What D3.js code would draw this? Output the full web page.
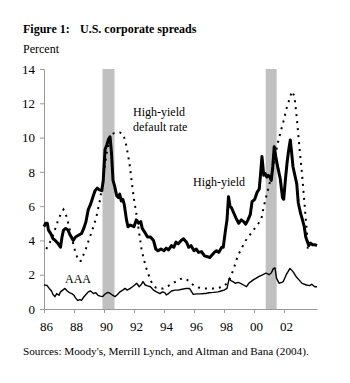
<!DOCTYPE html>
<html>
<head>
<meta charset="utf-8">
<script src="https://cdn.jsdelivr.net/npm/d3@7"></script>
<style>
  body { margin: 0; background: #fff; }
  svg text { font-family: "Liberation Serif", "Times New Roman", serif; fill: #000; }
</style>
</head>
<body>
<div id="chart"></div>
<script>
// recession shading (start, end)
const recessions = [[1989.9, 1990.7], [2000.78, 2001.51]];

const yTicks = [0, 2, 4, 6, 8, 10, 12, 14];
const xTicks = [1986, 1988, 1990, 1992, 1994, 1996, 1998, 2000, 2002];

// high-yield spread (thick line)
const hyDates = [1986.0, 1986.1, 1986.22, 1986.3, 1986.45, 1986.6, 1986.75, 1986.95, 1987.1, 1987.2,
  1987.3, 1987.45, 1987.6, 1987.75, 1987.95, 1988.1, 1988.3, 1988.5, 1988.65, 1988.8,
  1988.95, 1989.1, 1989.25, 1989.4, 1989.55, 1989.7, 1989.85, 1989.95, 1990.07, 1990.2,
  1990.3, 1990.4, 1990.5, 1990.6, 1990.7, 1990.85, 1990.95, 1991.05, 1991.15, 1991.25,
  1991.35, 1991.5, 1991.6, 1991.75, 1992.0, 1992.15, 1992.3, 1992.45, 1992.55, 1992.7,
  1992.9, 1993.1, 1993.3, 1993.45, 1993.6, 1993.8, 1994.0, 1994.15, 1994.3, 1994.5,
  1994.65, 1994.8, 1994.95, 1995.15, 1995.3, 1995.5, 1995.65, 1995.8, 1996.0, 1996.15,
  1996.3, 1996.5, 1996.7, 1996.9, 1997.05, 1997.2, 1997.35, 1997.5, 1997.65, 1997.85,
  1997.95, 1998.1, 1998.2, 1998.3, 1998.4, 1998.5, 1998.65, 1998.8, 1998.98, 1999.15,
  1999.3, 1999.45, 1999.6, 1999.75, 1999.87, 2000.05, 2000.2, 2000.35, 2000.45, 2000.53,
  2000.65, 2000.75, 2000.85, 2000.95, 2001.05, 2001.15, 2001.25, 2001.35, 2001.45, 2001.6,
  2001.75, 2001.9, 2001.98, 2002.1, 2002.2, 2002.3, 2002.42, 2002.5, 2002.6, 2002.75,
  2002.85, 2002.95, 2003.1, 2003.2, 2003.35, 2003.45, 2003.53, 2003.65, 2003.75, 2003.9,
  2004.05, 2004.2];
const hyValues = [4.8, 5.0, 5.0, 4.6, 4.4, 4.1, 4.0, 3.8, 3.6, 4.2,
  4.6, 4.7, 4.6, 4.3, 4.0, 4.2, 4.3, 4.4, 4.7, 5.1,
  5.8, 6.1, 6.5, 6.9, 7.05, 6.95, 6.9, 7.5, 9.3, 9.6,
  9.9, 10.05, 9.1, 7.5, 7.2, 6.6, 6.5, 6.7, 6.3, 6.4,
  6.1, 5.2, 4.8, 4.9, 4.8, 5.2, 5.0, 5.1, 4.7, 4.5,
  4.2, 4.2, 4.0, 3.5, 3.4, 3.5, 3.4, 3.55, 3.45, 3.7,
  3.6, 3.9, 3.8, 4.0, 4.1, 3.9, 3.6, 3.7, 3.4, 3.5,
  3.3, 3.35, 3.1, 3.05, 3.0, 3.15, 3.3, 3.4, 3.3, 3.6,
  3.6, 4.6, 5.2, 6.55, 6.0, 5.9, 5.6, 5.3, 5.0, 5.2,
  5.1, 4.95, 5.2, 5.5, 6.26, 6.4, 6.8, 7.0, 8.0, 8.9,
  7.8, 7.9, 7.7, 7.8, 7.7, 7.5, 8.3, 9.47, 8.9, 8.2,
  7.6, 6.5, 6.4, 7.6, 8.5, 9.2, 9.86, 9.2, 8.3, 7.7,
  7.3, 6.2, 5.6, 5.3, 4.8, 4.2, 4.0, 3.7, 3.85, 3.75,
  3.75, 3.7];

// high-yield default rate (dotted line)
const defDates = [1986.15, 1986.4, 1986.6, 1986.8, 1986.95, 1987.15, 1987.3, 1987.5, 1987.65, 1987.8,
  1987.95, 1988.1, 1988.3, 1988.45, 1988.6, 1988.75, 1988.9, 1989.1, 1989.3, 1989.5,
  1989.73, 1989.9, 1990.05, 1990.18, 1990.35, 1990.5, 1990.65, 1990.85, 1991.05, 1991.28,
  1991.45, 1991.6, 1991.73, 1991.85, 1992.0, 1992.15, 1992.35, 1992.5, 1992.65, 1992.85,
  1993.05, 1993.2, 1993.45, 1993.7, 1993.95, 1994.2, 1994.5, 1994.8, 1995.1, 1995.3,
  1995.55, 1995.8, 1996.05, 1996.3, 1996.6, 1997.0, 1997.4, 1997.7, 1997.95, 1998.2,
  1998.35, 1998.5, 1998.7, 1998.9, 1999.15, 1999.45, 1999.75, 2000.05, 2000.3, 2000.5,
  2000.65, 2000.87, 2001.09, 2001.31, 2001.53, 2001.75, 2001.98, 2002.2, 2002.42, 2002.53,
  2002.7, 2002.87, 2003.02, 2003.2, 2003.38, 2003.53, 2003.6];
const defValues = [3.5, 3.9, 4.3, 4.8, 5.2, 5.6, 5.8, 5.4, 4.9, 4.3,
  3.8, 3.3, 2.8, 2.8, 3.1, 3.4, 3.8, 4.3, 4.8, 5.4,
  6.36, 7.3, 8.3, 9.1, 9.8, 10.15, 10.25, 10.3, 10.3, 10.2,
  9.7, 9.0, 8.3, 7.4, 6.4, 5.6, 4.4, 3.5, 2.9, 2.3,
  1.8, 1.5, 1.25, 1.2, 1.2, 1.3, 1.45, 1.6, 1.75, 1.8,
  1.7, 1.5, 1.35, 1.25, 1.2, 1.2, 1.2, 1.25, 1.3, 1.5,
  1.7, 2.0, 2.5, 3.05, 3.5, 4.0, 4.35, 4.7, 5.0, 5.3,
  5.97, 6.75, 7.5, 8.3, 9.47, 10.25, 11.0, 11.8, 12.4, 12.7,
  12.4, 11.0, 9.5, 7.9, 6.0, 4.4, 3.3];

// AAA spread (thin line)
const aaaDates = [1986.0, 1986.2, 1986.35, 1986.5, 1986.6, 1986.73, 1986.85, 1987.0, 1987.1, 1987.25,
  1987.4, 1987.55, 1987.7, 1987.85, 1988.0, 1988.1, 1988.25, 1988.4, 1988.5, 1988.65,
  1988.8, 1988.95, 1989.1, 1989.3, 1989.45, 1989.6, 1989.75, 1989.9, 1990.05, 1990.25,
  1990.4, 1990.55, 1990.73, 1990.9, 1991.07, 1991.25, 1991.4, 1991.55, 1991.75, 1991.9,
  1992.05, 1992.18, 1992.35, 1992.5, 1992.6, 1992.75, 1992.9, 1993.1, 1993.3, 1993.5,
  1993.73, 1993.9, 1994.05, 1994.15, 1994.3, 1994.5, 1994.73, 1994.95, 1995.2, 1995.5,
  1995.7, 1995.95, 1996.15, 1996.4, 1996.73, 1997.0, 1997.3, 1997.6, 1997.8, 1998.0,
  1998.2, 1998.35, 1998.45, 1998.6, 1998.75, 1998.95, 1999.1, 1999.3, 1999.5, 1999.65,
  1999.8, 1999.95, 2000.15, 2000.35, 2000.6, 2000.8, 2001.0, 2001.15, 2001.3, 2001.4,
  2001.5, 2001.67, 2001.85, 2001.95, 2002.15, 2002.4, 2002.6, 2002.8, 2003.0, 2003.2,
  2003.5, 2003.7, 2003.85, 2004.05, 2004.2];
const aaaValues = [1.4, 1.38, 1.2, 1.05, 0.85, 0.72, 0.9, 0.8, 1.0, 1.1,
  1.2, 1.05, 0.95, 0.9, 0.8, 0.65, 0.5, 0.55, 0.5, 0.7,
  0.85, 1.0, 1.05, 0.9, 0.95, 0.8, 0.75, 0.72, 0.86, 0.97,
  0.92, 0.82, 0.72, 0.85, 1.0, 1.1, 1.2, 1.1, 1.2, 1.3,
  1.4, 1.5, 1.3, 1.45, 1.6, 1.4, 1.35, 1.3, 1.1, 1.0,
  0.9, 1.0, 0.95, 0.82, 0.9, 1.05, 1.1, 1.1, 1.15, 1.2,
  1.2, 0.85, 0.88, 0.88, 0.9, 0.95, 0.97, 1.0, 1.05, 1.1,
  1.2, 1.8, 1.65, 1.6, 1.5, 1.55, 1.5, 1.4, 1.3, 1.5,
  1.6, 1.7, 1.8, 1.9, 2.0, 2.1, 2.0, 2.1, 2.37, 2.4,
  1.8, 1.5, 1.55, 1.6, 2.0, 2.37, 2.18, 1.9, 1.7, 1.5,
  1.4, 1.36, 1.44, 1.3, 1.3];

const width = 350, height = 383;
const svg = d3.select('#chart').append('svg')
  .attr('width', width)
  .attr('height', height);

const x = d3.scaleLinear().domain([1986, 2004.2]).range([44, 317]);
const y = d3.scaleLinear().domain([0, 14]).range([309, 69]);

// title + unit
svg.append('text').attr('x', 23).attr('y', 33)
  .style('font-size', '12px').style('font-weight', 'bold').text('Figure 1:');
svg.append('text').attr('x', 80).attr('y', 33)
  .style('font-size', '12px').style('font-weight', 'bold').text('U.S. corporate spreads');
svg.append('text').attr('x', 23).attr('y', 53)
  .style('font-size', '12px').text('Percent');

// recession bars
svg.append('g').selectAll('rect').data(recessions).enter()
  .append('rect')
  .attr('x', d => x(d[0]))
  .attr('width', d => x(d[1]) - x(d[0]))
  .attr('y', y(14))
  .attr('height', y(0) - y(14))
  .attr('fill', '#c0c0c0');

// axes
const yAxis = svg.append('g').attr('transform', `translate(${x(1986)},0)`)
  .call(d3.axisLeft(y).tickValues(yTicks).tickSize(4).tickSizeOuter(0).tickPadding(5));
const xAxis = svg.append('g').attr('transform', `translate(0,${y(0)})`)
  .call(d3.axisBottom(x).tickValues(xTicks).tickSize(4).tickSizeOuter(0).tickPadding(9)
    .tickFormat(d => String(d).slice(2)));
[yAxis, xAxis].forEach(a => {
  a.select('.domain').attr('stroke', '#999');
  a.selectAll('.tick line').attr('stroke', '#999');
  a.selectAll('text').style('font-size', '13px')
    .style('font-family', '"Liberation Serif", "Times New Roman", serif');
});
xAxis.selectAll('text').attr('dx', 2);

const line = d3.line().x(d => x(d[0])).y(d => y(d[1]));
const zip = (a, b) => a.map((d, i) => [d, b[i]]);

svg.append('path').datum(zip(aaaDates, aaaValues))
  .attr('d', line).attr('fill', 'none')
  .attr('stroke', '#000').attr('stroke-width', 1.4).attr('stroke-linejoin', 'round');

svg.append('path').datum(zip(defDates, defValues))
  .attr('d', line).attr('fill', 'none')
  .attr('stroke', '#000').attr('stroke-width', 2)
  .attr('stroke-dasharray', '2,5');

svg.append('path').datum(zip(hyDates, hyValues))
  .attr('d', line).attr('fill', 'none')
  .attr('stroke', '#000').attr('stroke-width', 3).attr('stroke-linejoin', 'round');

// series labels
svg.append('text').attr('x', 133).attr('y', 116).style('font-size', '12px').text('High-yield');
svg.append('text').attr('x', 133).attr('y', 131).style('font-size', '12px').text('default rate');
svg.append('text').attr('x', 193).attr('y', 186).style('font-size', '12px').text('High-yield');
svg.append('text').attr('x', 65).attr('y', 283).style('font-size', '12px').text('AAA');

// source note
svg.append('text').attr('x', 23).attr('y', 355)
  .style('font-size', '11.2px')
  .text("Sources: Moody's, Merrill Lynch, and Altman and Bana (2004).");
</script>
</body>
</html>
